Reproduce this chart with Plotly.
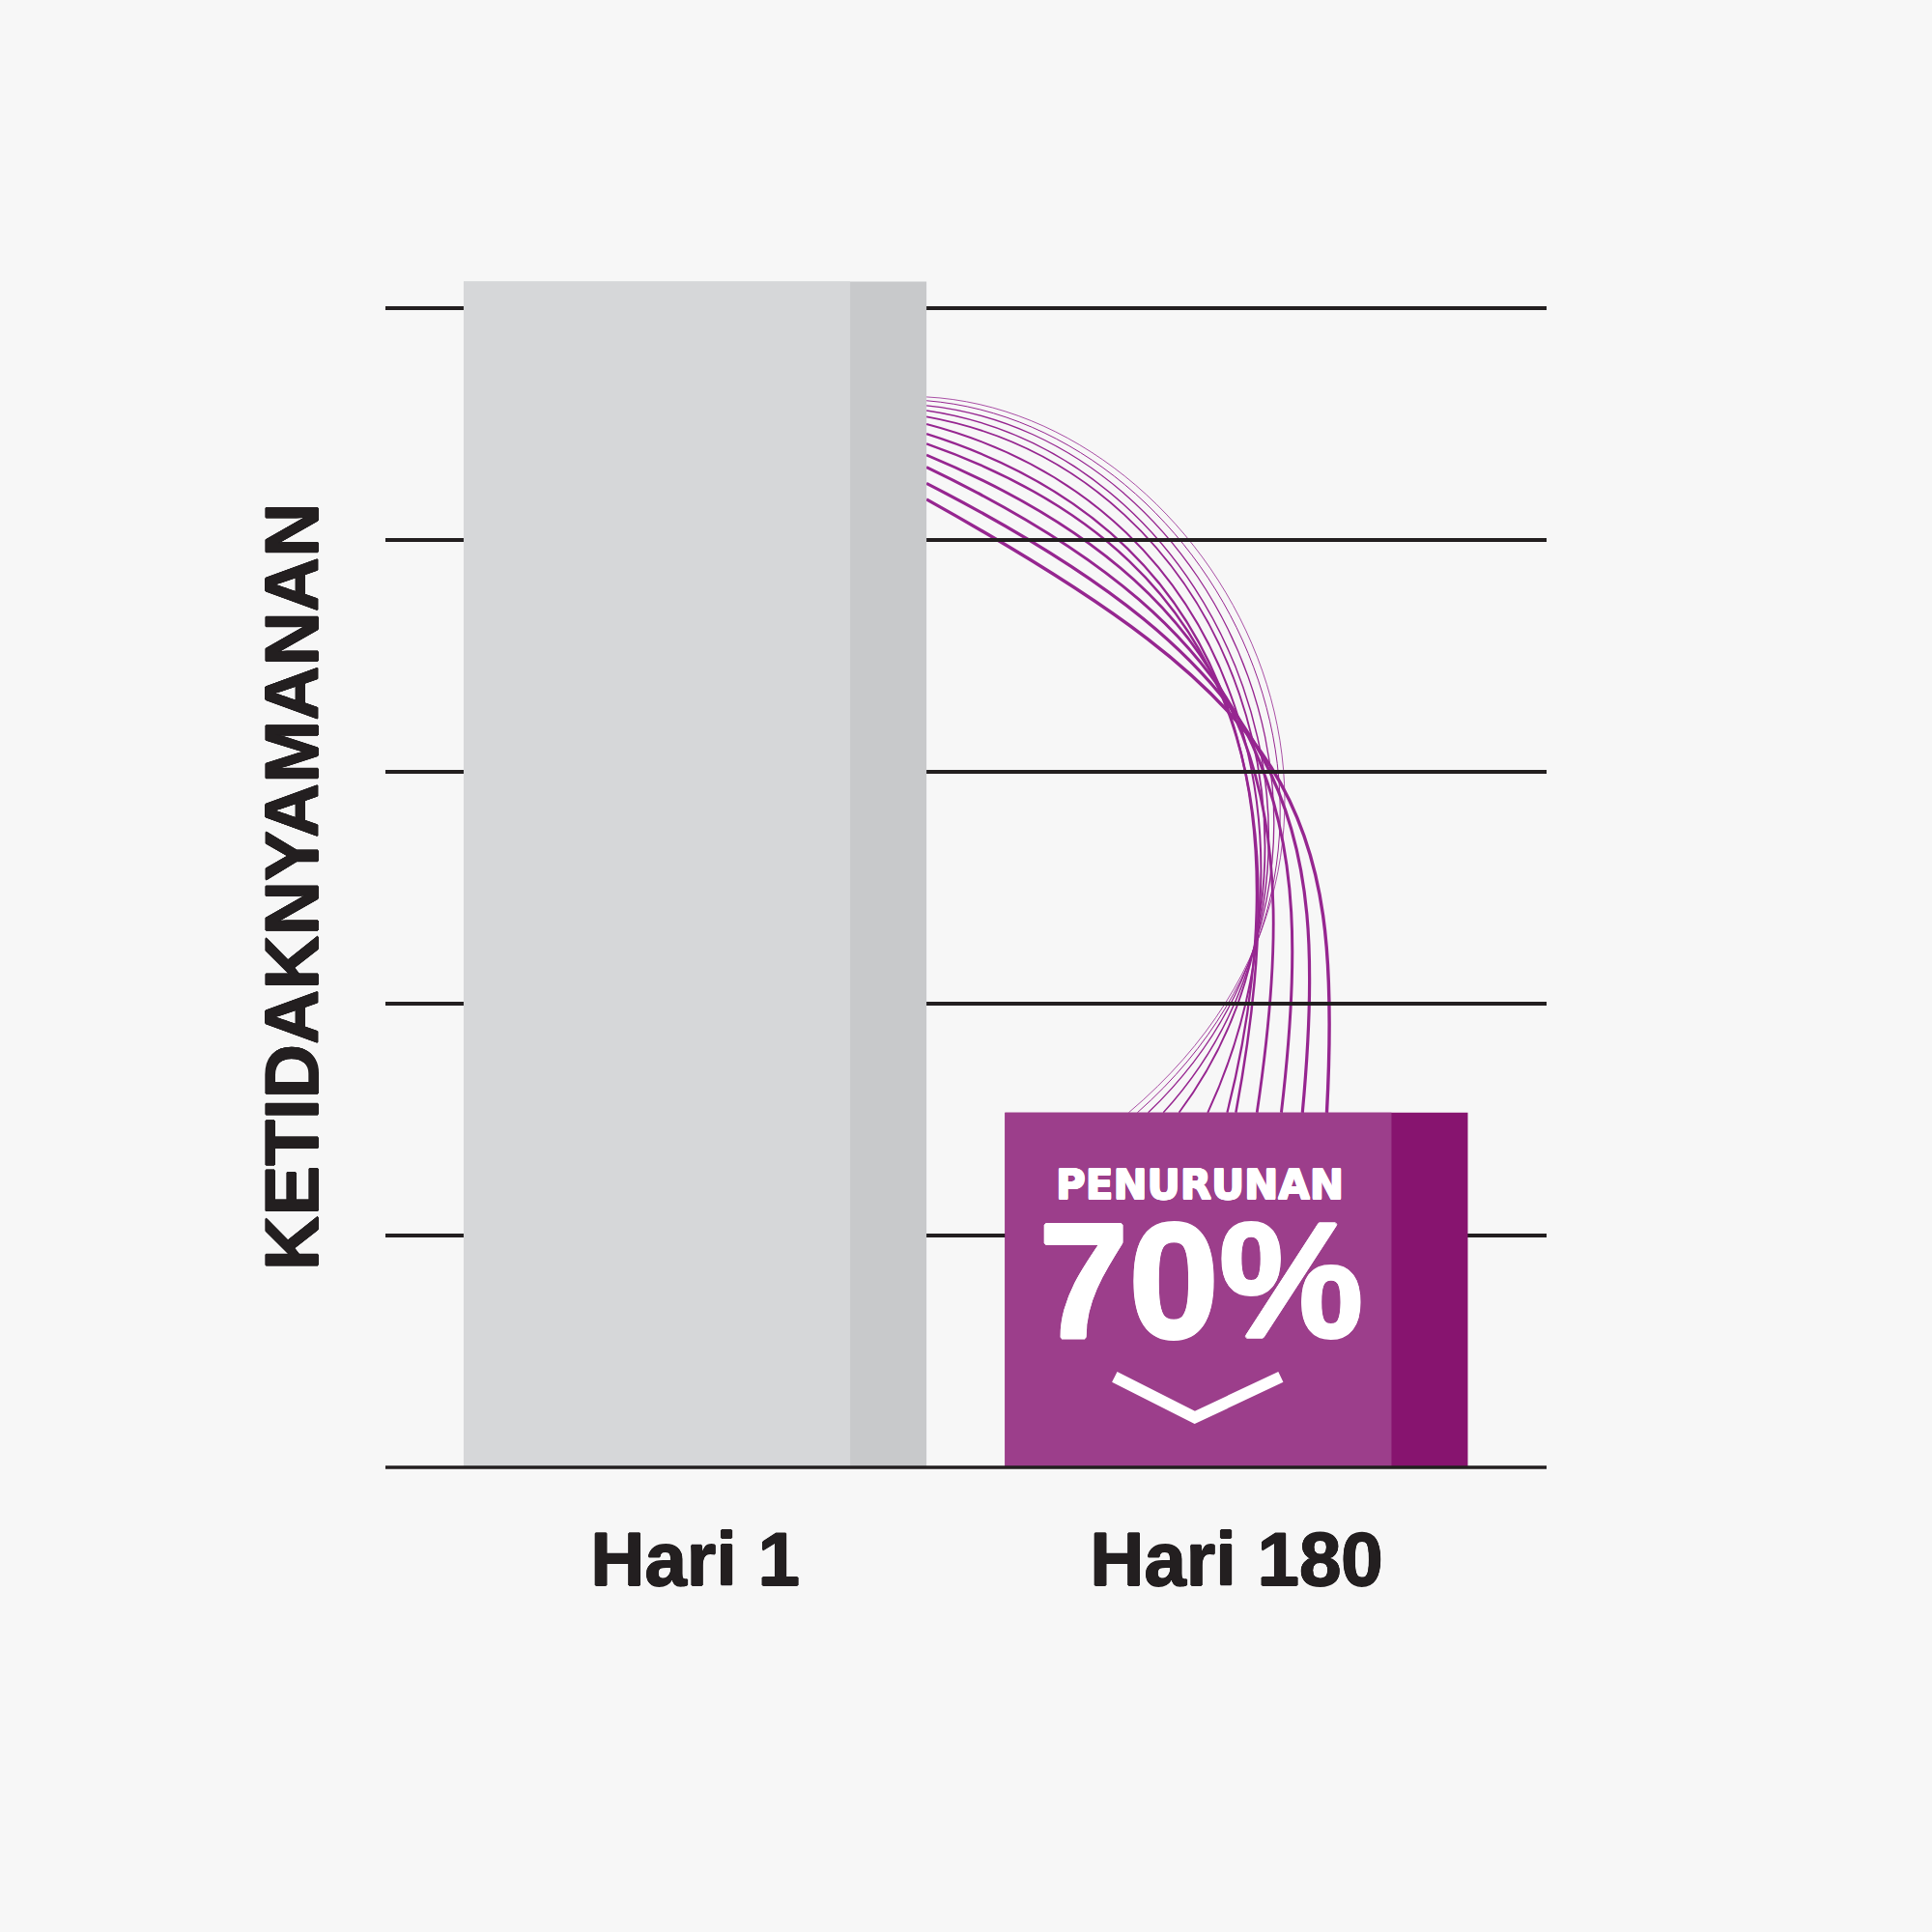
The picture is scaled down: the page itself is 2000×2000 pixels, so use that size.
import plotly.graph_objects as go

# ---- data ----
categories = ["Hari 1", "Hari 180"]
cat_pos = [0, 1]
values = [102.3, 30.6]
grid_vals = [0, 20, 40, 60, 80, 100]
y_title = "KETIDAKNYAMANAN"
badge_top = "PENURUNAN"
badge_pct = "70%"

light_colors = ["#d6d7d9", "#9c3e8b"]
dark_colors = ["#c8c9cb", "#87146f"]

BAR_W = 0.855
STRIP_W = 0.141

# decorative ribbon (bezier curves from bar 1 edge to bar 2 top), data units
curve_start_y = [92.34, 92.02, 91.60, 91.17, 90.64, 90.00, 89.15, 88.30, 87.34, 86.28, 84.89, 83.51]
curve_end_x = [0.801, 0.817, 0.837, 0.865, 0.894, 0.947, 0.983, 0.999, 1.038, 1.083, 1.122, 1.167]
curve_c1x = [0.958, 0.969, 0.981, 0.992, 1.010, 1.038, 1.060, 1.072, 1.083, 1.094, 1.101, 1.110]
curve_c1y = [91.06, 90.00, 88.94, 87.34, 85.74, 82.55, 79.89, 77.77, 74.57, 71.38, 68.72, 65.74]
curve_c2x = [1.402, 1.367, 1.322, 1.276, 1.231, 1.163, 1.106, 1.094, 1.117, 1.147, 1.174, 1.197]
curve_c2y = [54.36, 53.30, 52.23, 51.70, 51.70, 52.23, 53.30, 54.36, 55.43, 55.96, 56.49, 57.23]
curve_w = [0.8, 1.0, 1.3, 1.5, 1.8, 2.0, 2.3, 2.5, 2.8, 3.0, 3.2, 3.4]

# chevron (down arrow) inside badge
chev_x = [0.775, 0.923, 1.082]
chev_y = [7.8, 4.3, 7.8]

TXT = "#231f20"
BG = "#f7f7f7"

fig = go.Figure()
fig.add_trace(go.Bar(
    x=cat_pos, y=values, width=[BAR_W] * 2, offset=-BAR_W / 2,
    marker=dict(color=dark_colors, line=dict(width=0)), hoverinfo="skip",
))
fig.add_trace(go.Bar(
    x=cat_pos, y=values, width=[BAR_W - STRIP_W] * 2, offset=-BAR_W / 2,
    marker=dict(color=light_colors, line=dict(width=0)), hoverinfo="skip",
))

shapes = []
x0 = cat_pos[0] + BAR_W / 2
y_end = values[1]
for sy, ex, c1x, c1y, c2x, c2y, w in zip(curve_start_y, curve_end_x, curve_c1x,
                                          curve_c1y, curve_c2x, curve_c2y, curve_w):
    shapes.append(dict(
        type="path", xref="x", yref="y", layer="below",
        path=f"M {x0},{sy} C {c1x},{c1y} {c2x},{c2y} {ex},{y_end}",
        line=dict(color="#962690", width=w),
    ))
shapes.append(dict(
    type="path", xref="x", yref="y", layer="above",
    path=f"M {chev_x[0]},{chev_y[0]} L {chev_x[1]},{chev_y[1]} L {chev_x[2]},{chev_y[2]}",
    line=dict(color="white", width=12),
))
shapes.append(dict(
    type="line", xref="paper", yref="paper", layer="above",
    x0=0, x1=1, y0=0, y1=0, line=dict(color=TXT, width=3.5),
))


def thick(px, col):
    dirs = [(1, 0), (-1, 0), (0, 1), (0, -1), (0.7, 0.7), (-0.7, 0.7), (0.7, -0.7), (-0.7, -0.7)]
    return ", ".join(f"{dx * px:.2f}px {dy * px:.2f}px 0px {col}" for dx, dy in dirs)


badge_x = 0.932
fig.update_layout(
    width=2000, height=2000,
    margin=dict(l=399, r=399, t=199, b=481),
    paper_bgcolor=BG, plot_bgcolor=BG,
    barmode="overlay", showlegend=False,
    shapes=shapes,
    xaxis=dict(
        range=[-0.572, 1.573], tickvals=cat_pos, ticktext=categories,
        showgrid=False, zeroline=False, showline=False, ticks="",
        tickfont=dict(family="Liberation Sans", size=78, color=TXT, weight=700,
                      shadow=thick(0.7, TXT)),
        ticklabelstandoff=43,
    ),
    yaxis=dict(
        range=[0, 110], tickvals=grid_vals, showticklabels=False,
        showgrid=True, gridcolor=TXT, gridwidth=3.5, zeroline=False, showline=False,
    ),
    annotations=[
        dict(text=y_title, xref="paper", yref="paper", x=-0.0807, y=0.4553,
             textangle=-90, showarrow=False, xanchor="center", yanchor="middle",
             font=dict(family="Liberation Sans", size=78, color=TXT, weight=700,
                       shadow=thick(0.7, TXT))),
        dict(text=badge_top, xref="x", yref="y", x=badge_x, y=24.4,
             showarrow=False, xanchor="center", yanchor="middle",
             font=dict(family="DejaVu Sans", size=42, color="white", weight=700,
                       shadow=thick(0.8, "white"))),
        dict(text=badge_pct, xref="x", yref="y", x=badge_x + 0.002, y=16.1,
             showarrow=False, xanchor="center", yanchor="middle",
             font=dict(family="Liberation Sans", size=168, color="white", weight=700,
                       shadow=thick(1.6, "white"))),
    ],
)

fig.write_html(
    "out.html",
    config={"displayModeBar": False},
    post_script="document.body.style.margin='0px';"
                "document.body.style.backgroundColor='#f7f7f7';",
)
